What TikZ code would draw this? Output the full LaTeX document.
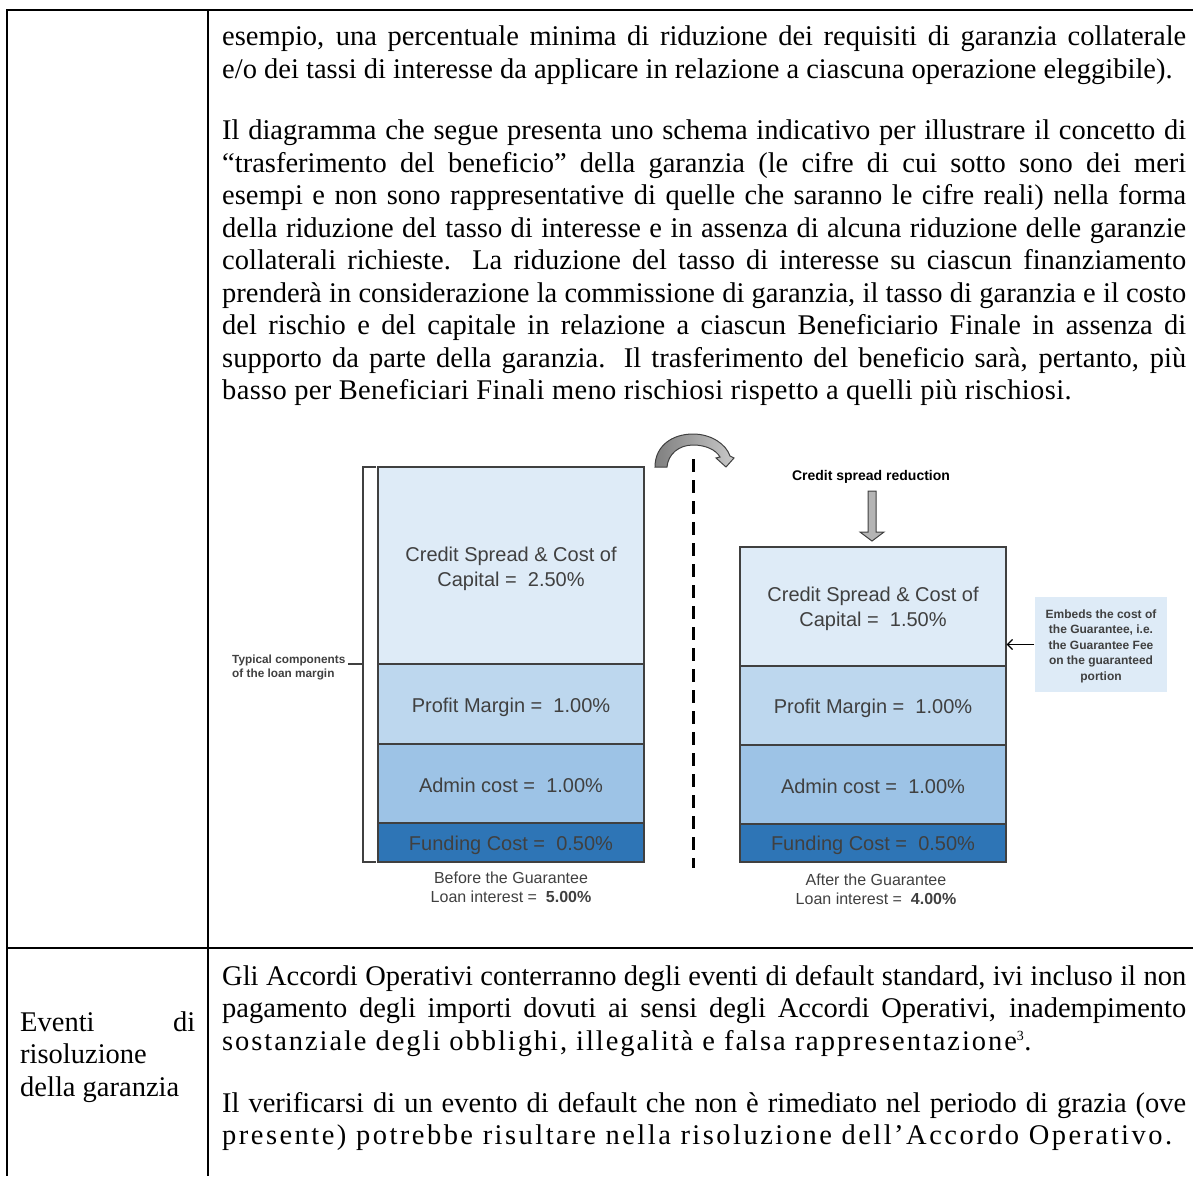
\documentclass[tikz,border=0pt]{standalone}
\usepackage{fontspec}
\setmainfont{Liberation Serif}
\setsansfont{Liberation Sans}
\usetikzlibrary{arrows.meta}
\newcommand\bodyfont{\fontsize{28.5}{32.5}\selectfont}
\newcommand\myjust[2][964pt]{\makebox[#1][s]{#2}}
\newcommand\myspread[1]{\addfontfeatures{LetterSpace=#1}}
\definecolor{cA}{HTML}{DEEBF7}
\definecolor{cB}{HTML}{BDD7EE}
\definecolor{cC}{HTML}{9DC3E6}
\definecolor{cD}{HTML}{2E75B6}
\definecolor{txtg}{HTML}{404040}
\definecolor{edgeg}{HTML}{404040}
\definecolor{arrA}{HTML}{7F7F7F}
\definecolor{arrB}{HTML}{C8C8C8}
\tikzset{
  tline/.style={line width=2pt, black},
  bl/.style={anchor=base west, inner sep=0pt, font=\bodyfont},
  seg/.style={draw=edgeg, line width=1.3pt, minimum width=266pt, inner sep=0pt},
  segtxt/.style={inner sep=0pt, align=center, text=txtg, font=\sffamily\fontsize{20}{25}\selectfont},
  capt/.style={align=center, inner sep=0pt, text=txtg, font=\sffamily\fontsize{16}{19}\selectfont},
  small/.style={inner sep=0pt, text=txtg, font=\sffamily\bfseries\fontsize{11.8}{14}\selectfont},
}
\begin{document}
\begin{tikzpicture}[x=1pt,y=-1pt]
\useasboundingbox (0,0) rectangle (1193,1176);
% table rules
\draw[tline] (7,10) -- (1193,10);
\draw[tline] (7,9) -- (7,1176);
\draw[tline] (208,10) -- (208,1176);
\draw[tline] (7,948) -- (1193,948);

% text paragraph 1
\node[bl] (p1a) at (222,45.5) {\myjust{esempio, una percentuale minima di riduzione dei requisiti di garanzia collaterale}};
\node[bl] (p1b) at (222,78) {e/o dei tassi di interesse da applicare in relazione a ciascuna operazione eleggibile).};
% paragraph 2
\node[bl] (p2a) at (222,139.5) {\myjust{Il diagramma che segue presenta uno schema indicativo per illustrare il concetto di}};
\node[bl] (p2b) at (222,172) {\myjust{“trasferimento del beneficio” della garanzia (le cifre di cui sotto sono dei meri}};
\node[bl] (p2c) at (222,204.5) {\myjust{esempi e non sono rappresentative di quelle che saranno le cifre reali) nella forma}};
\node[bl] (p2d) at (222,237) {\myjust{della riduzione del tasso di interesse e in assenza di alcuna riduzione delle garanzie}};
\node[bl] (p2e) at (222,269.5) {\myjust{collaterali richieste. La riduzione del tasso di interesse su ciascun finanziamento}};
\node[bl] (p2f) at (222,302) {\myjust{prenderà in considerazione la commissione di garanzia, il tasso di garanzia e il costo}};
\node[bl] (p2g) at (222,334.5) {\myjust{del rischio e del capitale in relazione a ciascun Beneficiario Finale in assenza di}};
\node[bl] (p2h) at (222,367) {\myjust{supporto da parte della garanzia. Il trasferimento del beneficio sarà, pertanto, più}};
\node[bl] (p2i) at (222,399.5) {\myspread{1.2}basso per Beneficiari Finali meno rischiosi rispetto a quelli più rischiosi.};

% bottom row
\node[bl] (e1) at (20,1031) {\myjust[175pt]{Eventi di}};
\node[bl] (e2) at (20,1063.5) {risoluzione};
\node[bl] (e3) at (20,1096) {della garanzia};
\node[bl] (q1) at (222,985) {\myjust{Gli Accordi Operativi conterranno degli eventi di default standard, ivi incluso il non}};
\node[bl] (q2) at (222,1017.5) {\myjust{pagamento degli importi dovuti ai sensi degli Accordi Operativi, inadempimento}};
\node[bl] (q3) at (222,1050) {\myspread{6.8}sostanziale degli obblighi, illegalità e falsa rappresentazione\textsuperscript{\fontsize{14}{14}\selectfont 3}.};
\node[bl] (q4) at (222,1112) {\myjust{Il verificarsi di un evento di default che non è rimediato nel periodo di grazia (ove}};
\node[bl] (q5) at (222,1144.5) {\myspread{8.7}presente) potrebbe risultare nella risoluzione dell’Accordo Operativo.};

% ---- chart: left stack
\node[seg, fill=cA, minimum height=197pt] (lcs) at (511,565.5) {};
\node[seg, fill=cB, minimum height=80pt] (lpm) at (511,704) {};
\node[seg, fill=cC, minimum height=79pt] (lac) at (511,783.5) {};
\node[seg, fill=cD, minimum height=39pt] (lfc) at (511,842.5) {};
\node[segtxt] (lcst) at ([yshift=-3pt]lcs.center) {Credit Spread \& Cost of\\Capital = \ 2.50\%};
\node[segtxt] (lpmt) at ([yshift=-3pt]lpm.center) {Profit Margin = \ 1.00\%};
\node[segtxt] (lact) at ([yshift=-2pt]lac.center) {Admin cost = \ 1.00\%};
\node[segtxt] (lfct) at ([yshift=-2.5pt]lfc.center) {Funding Cost = \ 0.50\%};
\node[capt] (lcap) at (511,887.5) {Before the Guarantee\\Loan interest = \ \textbf{5.00\%}};

% right stack
\node[seg, fill=cA, minimum height=119pt] (rcs) at (873,606.5) {};
\node[seg, fill=cB, minimum height=79pt] (rpm) at (873,705.5) {};
\node[seg, fill=cC, minimum height=79pt] (rac) at (873,784.5) {};
\node[seg, fill=cD, minimum height=38pt] (rfc) at (873,843) {};
\node[segtxt] (rcst) at ([yshift=-2.5pt]rcs.center) {Credit Spread \& Cost of\\Capital = \ 1.50\%};
\node[segtxt] (rpmt) at ([yshift=-2.5pt]rpm.center) {Profit Margin = \ 1.00\%};
\node[segtxt] (ract) at ([yshift=-2pt]rac.center) {Admin cost = \ 1.00\%};
\node[segtxt] (rfct) at ([yshift=-2.5pt]rfc.center) {Funding Cost = \ 0.50\%};
\node[capt] (rcap) at (876,889.5) {After the Guarantee\\Loan interest = \ \textbf{4.00\%}};

% bracket
\draw[edgeg, line width=1.3pt] (376,467) -- (363,467) -- (363,862) -- (376,862);
\coordinate (bm) at (363,664);
\coordinate (bl0) at (348,664);
\draw[edgeg, line width=1.3pt] (bm) -- (bl0);
\node[small, anchor=west, align=left] (typ) at (232,667) {Typical components\\of the loan margin};

% dashed divider
\draw[black, line width=3pt, dash pattern=on 13pt off 8pt] (693,459) -- (693,868);

% curved arrow
\path[left color=arrA, right color=arrB, draw=edgeg, line width=1pt]
  (655,467) .. controls (655,446) and (672,434) .. (693,434)
  .. controls (711,434) and (726,444) .. (730,456)
  -- (734,458) -- (726,467) -- (716,458) -- (720,457)
  .. controls (716,450) and (706,445) .. (693,445)
  .. controls (679,445) and (668,454) .. (667,467) -- cycle;

% credit spread reduction
\node[inner sep=0pt, font=\sffamily\bfseries\fontsize{14}{16}\selectfont] (csr) at (871,477) {Credit spread reduction};
\path[fill=arrB!90!black, draw=edgeg, line width=1pt]
  (868,491) -- (876,491) -- (876,532) -- (884,532) -- (872,541) -- (860,532) -- (868,532) -- cycle;

% callout
\node[seg, draw=none, fill=cA, minimum width=132pt, minimum height=95pt] (call) at (1101,644.5) {};
\node[small, align=center, font=\sffamily\bfseries\fontsize{12}{15.5}\selectfont] (callt) at ([yshift=-1.5pt]call.center)
  {Embeds the cost of\\the Guarantee, i.e.\\the Guarantee Fee\\on the guaranteed\\portion};
\draw[black, line width=1.2pt, -{Straight Barb[length=5pt,width=10pt]}] (call.west) -- (rcs.east |- call.west);
\end{tikzpicture}
\end{document}
